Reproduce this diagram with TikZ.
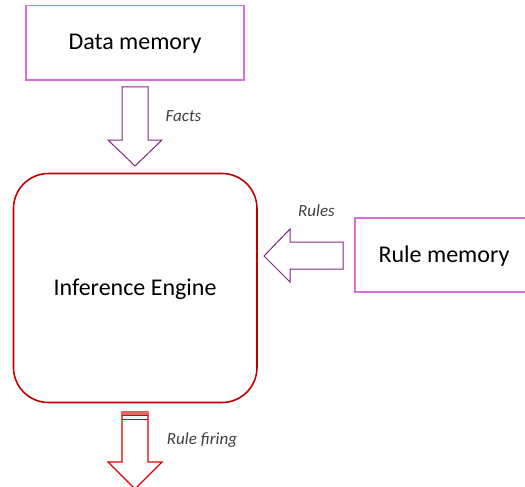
\documentclass[tikz,border=0pt]{standalone}
\usepackage{fontspec}
\setmainfont{Carlito}
\definecolor{memborder}{HTML}{D870D8}
\definecolor{engborder}{HTML}{C00000}
\definecolor{factarrow}{HTML}{7A2A7A}
\definecolor{firearrow}{HTML}{E00000}
\definecolor{firestripe}{HTML}{E06A6A}
\definecolor{labelgray}{HTML}{404040}
\tikzset{
  membox/.style={draw=memborder, line width=1.5pt},
  engbox/.style={draw=engborder, line width=1.6pt, rounded corners=35pt},
  bigtext/.style={font=\fontsize{24}{28}\selectfont, text=black},
  flowlabel/.style={font=\fontsize{17}{20}\selectfont\itshape, text=labelgray},
  factstyle/.style={draw=factarrow, line width=1pt, fill=white},
  firestyle/.style={draw=firearrow, line width=1.2pt, fill=white},
}
\begin{document}
\begin{tikzpicture}[x=1pt, y=-1pt]
  \useasboundingbox (0,0) rectangle (525,487);
  \clip (0,0) rectangle (525,487);

  % memories and engine
  \draw[membox] (26,5.5) rectangle (244,80);
  \node[bigtext] (data) at (135,44) {Data memory};
  \draw[membox] (355,218) rectangle (545,292);
  \node[bigtext] (rulemem) at (444,256) {Rule memory};
  \draw[engbox] (13.5,173.5) rectangle (257,402.5);
  \node[bigtext] (engine) at (135,289) {Inference Engine};

  % facts flow downwards into the engine
  \draw[factstyle] (122,87) -- (148,87) -- (148,140) -- (162,140)
        -- (135,166) -- (108,140) -- (122,140) -- cycle;
  \node[flowlabel] (facts) at (183.5,116) {Facts};

  % rules flow from rule memory to the engine
  \draw[factstyle] (343,242) -- (343,269) -- (290,269) -- (290,282)
        -- (264,256) -- (290,229) -- (290,242) -- cycle;
  \node[flowlabel] (rules) at (316.5,211) {Rules};

  % rule firing leaves the engine
  \draw[firestyle] (122,412) -- (148,412) -- (148,462) -- (162,462)
        -- (135,489) -- (108,462) -- (122,462) -- cycle;
  \fill[firestripe] (122,412) rectangle (148,414.5);
  \draw[firearrow, line width=0.9pt] (122,415.8) -- (148,415.8);
  \draw[firearrow, line width=0.9pt] (122,419.3) -- (148,419.3);
  \node[flowlabel] (firing) at (202,440) {Rule firing};
\end{tikzpicture}
\end{document}
